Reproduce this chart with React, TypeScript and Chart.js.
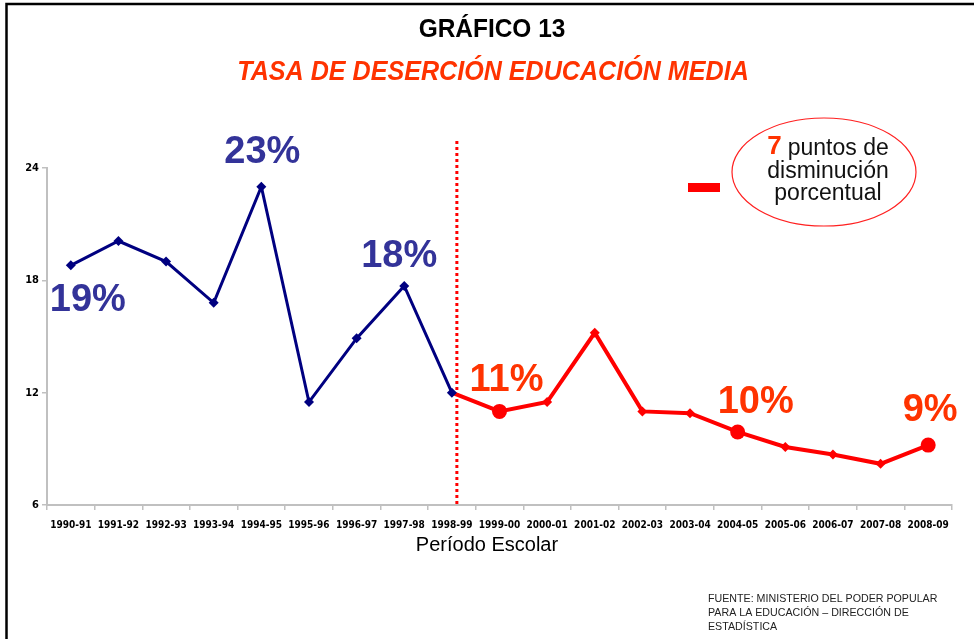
import React, { useEffect, useRef } from "react";
import { Chart, registerables } from "chart.js";

Chart.register(...registerables);

const periodos = [
  "1990-91", "1991-92", "1992-93", "1993-94", "1994-95", "1995-96", "1996-97",
  "1997-98", "1998-99", "1999-00", "2000-01", "2001-02", "2002-03", "2003-04",
  "2004-05", "2005-06", "2006-07", "2007-08", "2008-09",
];
// 1990-91 .. 1998-99
const tasaAntes = [18.8, 20.1, 19.0, 16.8, 23.0, 11.5, 14.9, 17.7, 12.0];
// 1998-99 .. 2008-09
const tasaDespues = [12.0, 11.0, 11.5, 15.2, 11.0, 10.9, 9.9, 9.1, 8.7, 8.2, 9.2];
const yTicks = [6, 12, 18, 24];
const etiquetas = [
  { idx: 4, text: "23%", serie: 0 },
  { idx: 0, text: "19%", serie: 0 },
  { idx: 7, text: "18%", serie: 0 },
  { idx: 9, text: "11%", serie: 1 },
  { idx: 14, text: "10%", serie: 1 },
  { idx: 18, text: "9%", serie: 1 },
];
const destacados = [9, 14, 18];
const corte = 8;

const labelOffsets: Record<number, [number, number]> = {
  4: [1, -34],
  0: [17, 35],
  7: [-5, -29],
  9: [7, -31],
  14: [18, -29],
  18: [2, -35],
};

const FONT = "'Liberation Sans', Arial, sans-serif";
const NARROW = "'Liberation Sans Narrow', 'DejaVu Sans Condensed', 'Liberation Sans', sans-serif";

function narrowText(ctx: any, text: string, x: number, y: number, sx: number) {
  ctx.save();
  ctx.translate(x, y);
  ctx.scale(sx, 1);
  ctx.fillText(text, 0, 0);
  ctx.restore();
}

const overlay = {
  id: "overlay",
  beforeDraw(chart: any) {
    const ctx = chart.ctx;
    ctx.save();
    ctx.fillStyle = "#fff";
    ctx.fillRect(0, 0, chart.width, chart.height);
    // frame
    ctx.strokeStyle = "#000";
    ctx.lineWidth = 2.5;
    ctx.beginPath();
    ctx.moveTo(6.5, 639);
    ctx.lineTo(6.5, 4);
    ctx.lineTo(974, 4);
    ctx.stroke();
    // titles
    ctx.textAlign = "center";
    ctx.textBaseline = "middle";
    ctx.fillStyle = "#000";
    ctx.font = `bold 26px ${FONT}`;
    narrowText(ctx, "GRÁFICO 13", 492, 30, 0.94);
    ctx.fillStyle = "#ff3300";
    ctx.font = `italic bold 27px ${FONT}`;
    narrowText(ctx, "TASA DE DESERCIÓN EDUCACIÓN MEDIA", 493, 73, 0.93);
    // x axis title
    ctx.fillStyle = "#000";
    ctx.font = `20px ${FONT}`;
    ctx.fillText("Período Escolar", 487, 545);
    // source
    ctx.textAlign = "left";
    ctx.font = `11px ${FONT}`;
    ctx.fillStyle = "#222";
    narrowText(ctx, "FUENTE: MINISTERIO DEL PODER POPULAR", 708, 599, 0.97);
    narrowText(ctx, "PARA LA EDUCACIÓN – DIRECCIÓN DE", 708, 613, 0.97);
    narrowText(ctx, "ESTADÍSTICA", 708, 627, 0.97);
    // annotation: dash + ellipse
    ctx.fillStyle = "#ff0000";
    ctx.fillRect(688, 183, 32, 9);
    ctx.strokeStyle = "#ff2020";
    ctx.lineWidth = 1.2;
    ctx.beginPath();
    ctx.ellipse(824, 172, 92, 54, 0, 0, Math.PI * 2);
    ctx.stroke();
    ctx.font = `bold 26px ${FONT}`;
    const w7b = ctx.measureText("7").width + 6;
    ctx.font = `23px ${FONT}`;
    const wRest = ctx.measureText("puntos de").width;
    const startX = 828 - (w7b + wRest) / 2;
    ctx.textAlign = "left";
    ctx.font = `bold 26px ${FONT}`;
    ctx.fillStyle = "#ff3300";
    ctx.fillText("7", startX, 147);
    ctx.font = `23px ${FONT}`;
    ctx.fillStyle = "#111";
    ctx.fillText("puntos de", startX + w7b, 149);
    ctx.textAlign = "center";
    ctx.fillText("disminución", 828, 172);
    ctx.fillText("porcentual", 828, 194);
    ctx.restore();
  },
  beforeDatasetsDraw(chart: any) {
    const ctx = chart.ctx;
    const x = chart.scales.x.getPixelForValue(corte) + 5;
    ctx.save();
    ctx.strokeStyle = "#ff0000";
    ctx.lineWidth = 3;
    ctx.setLineDash([3, 3]);
    ctx.beginPath();
    ctx.moveTo(x, 141);
    ctx.lineTo(x, chart.scales.y.getPixelForValue(6));
    ctx.stroke();
    ctx.restore();
  },
  afterDatasetsDraw(chart: any) {
    const ctx = chart.ctx;
    ctx.save();
    ctx.textAlign = "center";
    ctx.textBaseline = "middle";
    ctx.font = `bold 38px ${FONT}`;
    for (const e of etiquetas) {
      const ds = chart.data.datasets[e.serie];
      const v = ds.data[e.idx] as number;
      const px = chart.scales.x.getPixelForValue(e.idx);
      const py = chart.scales.y.getPixelForValue(v);
      const [dx, dy] = labelOffsets[e.idx];
      ctx.fillStyle = e.serie === 0 ? "#333399" : "#ff3300";
      ctx.fillText(e.text, px + dx, py + dy);
    }
    ctx.restore();
  },
};

export default function App() {
  const ref = useRef<HTMLCanvasElement>(null);
  useEffect(() => {
    document.body.style.margin = "0";
    const blue = periodos.map((_, i) => (i < tasaAntes.length ? tasaAntes[i] : null));
    const red = periodos.map((_, i) => (i >= corte ? tasaDespues[i - corte] : null));
    const redRadius = periodos.map((_, i) => (i <= corte ? 0 : destacados.includes(i) ? 7.5 : 5));
    const redStyle = periodos.map((_, i) => (destacados.includes(i) ? "circle" : "rectRot"));
    const chart = new Chart(ref.current!, {
      type: "line",
      data: {
        labels: periodos,
        datasets: [
          {
            data: blue,
            borderColor: "#000080",
            backgroundColor: "#000080",
            borderWidth: 3,
            pointStyle: "rectRot",
            pointRadius: 5,
            pointBorderWidth: 0,
            tension: 0,
          },
          {
            data: red,
            borderColor: "#ff0000",
            backgroundColor: "#ff0000",
            borderWidth: 4,
            pointStyle: redStyle as any,
            pointRadius: redRadius,
            pointBorderWidth: 0,
            tension: 0,
          },
        ],
      },
      options: {
        responsive: false,
        animation: false,
        events: [],
        layout: { padding: { left: 7, right: 22, top: 168, bottom: 94 } },
        plugins: { legend: { display: false }, tooltip: { enabled: false }, title: { display: false } },
        scales: {
          x: {
            offset: true,
            grid: { offset: true, drawOnChartArea: false, drawTicks: true, tickLength: 5, color: "#c0c0c0", lineWidth: 1.5 },
            border: { display: true, color: "#c0c0c0", width: 2 },
            ticks: {
              color: "#000",
              font: { family: NARROW, size: 10, weight: "bold" },
              padding: 9,
              maxRotation: 0,
              autoSkip: false,
            },
            afterFit: (s: any) => { s.height = 40; },
          },
          y: {
            min: 6,
            max: 24,
            afterBuildTicks: (s: any) => { s.ticks = yTicks.map((v) => ({ value: v })); },
            grid: { drawOnChartArea: false, drawTicks: true, tickLength: 5, color: "#c0c0c0", lineWidth: 1.5 },
            border: { display: true, color: "#c0c0c0", width: 2 },
            ticks: {
              color: "#000",
              font: { family: NARROW, size: 11, weight: "bold" },
              padding: 3,
            },
            afterFit: (s: any) => { s.width = 40; },
          },
        },
      },
      plugins: [overlay],
    });
    return () => chart.destroy();
  }, []);
  return (
    <div style={{ position: "absolute", left: 0, top: 0, width: 974, height: 639 }}>
      <canvas ref={ref} width={974} height={639} style={{ display: "block" }} />
    </div>
  );
}
